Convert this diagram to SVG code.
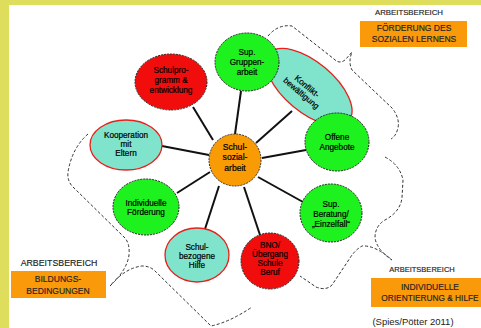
<svg xmlns="http://www.w3.org/2000/svg" width="481" height="328" viewBox="0 0 481 328">
<defs>
<style>
.t{font-family:"Liberation Sans",Arial,sans-serif;font-size:8.2px;fill:#000;stroke:#000;stroke-width:0.2;text-anchor:middle}
.lab{font-family:"Liberation Sans",Arial,sans-serif;font-size:8.5px;fill:#222;stroke:#222;stroke-width:0.15;text-anchor:middle}
.g{fill:#1ef21e;stroke:#222;stroke-width:1;stroke-dasharray:2 1}
.r{fill:#f20d0d;stroke:#222;stroke-width:1;stroke-dasharray:2 1}
.o{fill:#f99b05;stroke:#333;stroke-width:1;stroke-dasharray:2 1}
.tq{fill:#80e3cc;stroke:#e8201c;stroke-width:1.3}
.box{fill:#fa9a0a}
.sp{stroke:#111;stroke-width:2;fill:none}
.br{stroke:#333;stroke-width:1;fill:none;stroke-dasharray:3 2}
</style>
</defs>
<rect x="0" y="0" width="481" height="328" fill="#ffffff"/>
<rect x="0" y="0" width="481" height="5" fill="#dede5c"/>
<rect x="0" y="0" width="9" height="328" fill="#dede5c"/>

<g id="braces">
<path class="br" d="M268,36 Q278,24 292,26 L334,59 Q340,65 346,59 L352,52 Q348,62 352,70 L392,108 Q400,118 398,128 Q396,136 391,139"/>
<path class="br" d="M385,157 Q400,165 403,180 L402,198 Q400,212 385,220 Q375,226 375,238 Q377,250 392,260 Q375,245 362,246 Q355,250 350,258 L332,285 Q326,291 316,287 L300,276"/>
<path class="br" d="M88,134 Q72,148 68,172 Q67,180 72,186 L125,238 Q130,244 129,255 Q127,270 110,286 Q125,268 142,266 Q150,266 155,271 L211,326 Q230,322 252,307"/>
</g>

<g id="connectors">
<line class="sp" x1="193" y1="107" x2="213" y2="140"/>
<line class="sp" x1="241" y1="91" x2="235" y2="134"/>
<line class="sp" x1="292" y1="111" x2="256" y2="143"/>
<line class="sp" x1="262" y1="158" x2="306" y2="150"/>
<line class="sp" x1="258" y1="177" x2="303" y2="202"/>
<line class="sp" x1="244" y1="187" x2="260" y2="235"/>
<line class="sp" x1="219" y1="186" x2="205" y2="229"/>
<line class="sp" x1="210" y1="172" x2="177" y2="193"/>
<line class="sp" x1="162" y1="146" x2="209" y2="155"/>
</g>

<g id="konflikt">
<ellipse class="tq" cx="309" cy="87" rx="52" ry="25" transform="rotate(40 309 87)"/>
<g transform="rotate(40 304 90)">
<text class="t" x="304" y="88">Konflikt-</text>
<text class="t" x="304" y="97">bewältigung</text>
</g>
</g>

<g id="schulprogramm">
<ellipse class="r" cx="171" cy="82" rx="36" ry="28"/>
<text class="t" x="171" y="73">Schulpro-</text>
<text class="t" x="171" y="83">gramm &amp;</text>
<text class="t" x="171" y="93">entwicklung</text>
</g>

<g id="gruppenarbeit">
<ellipse class="g" cx="247" cy="62" rx="32" ry="29"/>
<text class="t" x="247" y="55">Sup.</text>
<text class="t" x="247" y="65">Gruppen-</text>
<text class="t" x="247" y="75">arbeit</text>
</g>

<g id="kooperation">
<ellipse class="tq" cx="126" cy="145" rx="36" ry="25"/>
<text class="t" x="126" y="138">Kooperation</text>
<text class="t" x="126" y="147">mit</text>
<text class="t" x="126" y="156">Eltern</text>
</g>

<g id="schulsozialarbeit">
<ellipse class="o" cx="235" cy="160" rx="26" ry="26"/>
<text class="t" x="235" y="150" style="font-size:8.6px">Schul-</text>
<text class="t" x="235" y="160" style="font-size:8.6px">sozial-</text>
<text class="t" x="235" y="171" style="font-size:8.6px">arbeit</text>
</g>

<g id="offene">
<ellipse class="g" cx="337" cy="142" rx="32" ry="29"/>
<text class="t" x="337" y="140">Offene</text>
<text class="t" x="337" y="150">Angebote</text>
</g>

<g id="individuelle">
<ellipse class="g" cx="146" cy="207" rx="33" ry="28"/>
<text class="t" x="146" y="206">Individuelle</text>
<text class="t" x="146" y="215">Förderung</text>
</g>

<g id="beratung">
<ellipse class="g" cx="331" cy="213" rx="31" ry="29"/>
<text class="t" x="331" y="207">Sup.</text>
<text class="t" x="331" y="217">Beratung/</text>
<text class="t" x="331" y="227">„Einzelfall“</text>
</g>

<g id="schulbezogen">
<ellipse class="tq" cx="197" cy="255" rx="32" ry="27"/>
<text class="t" x="197" y="250">Schul-</text>
<text class="t" x="197" y="259">bezogene</text>
<text class="t" x="197" y="268">Hilfe</text>
</g>

<g id="bno">
<ellipse class="r" cx="270" cy="261" rx="29" ry="28"/>
<text class="t" x="270" y="248">BNO/</text>
<text class="t" x="270" y="257">Übergang</text>
<text class="t" x="270" y="266">Schule</text>
<text class="t" x="270" y="275">Beruf</text>
</g>

<g id="label-sozial">
<text class="lab" x="409" y="15" style="font-size:7.8px">ARBEITSBEREICH</text>
<rect class="box" x="360" y="21" width="107" height="26"/>
<text class="lab" x="414" y="31">FÖRDERUNG DES</text>
<text class="lab" x="414" y="42">SOZIALEN LERNENS</text>
</g>

<g id="label-bildung">
<text class="lab" x="59" y="266" style="font-size:8.8px">ARBEITSBEREICH</text>
<rect class="box" x="11" y="271" width="95" height="27"/>
<text class="lab" x="58" y="282">BILDUNGS-</text>
<text class="lab" x="58" y="294">BEDINGUNGEN</text>
</g>

<g id="label-individuell">
<text class="lab" x="422" y="272" style="font-size:7.5px">ARBEITSBEREICH</text>
<rect class="box" x="371" y="278" width="110" height="29"/>
<text class="lab" x="430" y="290">INDIVIDUELLE</text>
<text class="lab" x="430" y="301" style="font-size:8.3px">ORIENTIERUNG &amp; HILFE</text>
</g>

<text class="lab" x="413" y="325" style="font-size:9.5px;stroke:none">(Spies/Pötter 2011)</text>
</svg>
